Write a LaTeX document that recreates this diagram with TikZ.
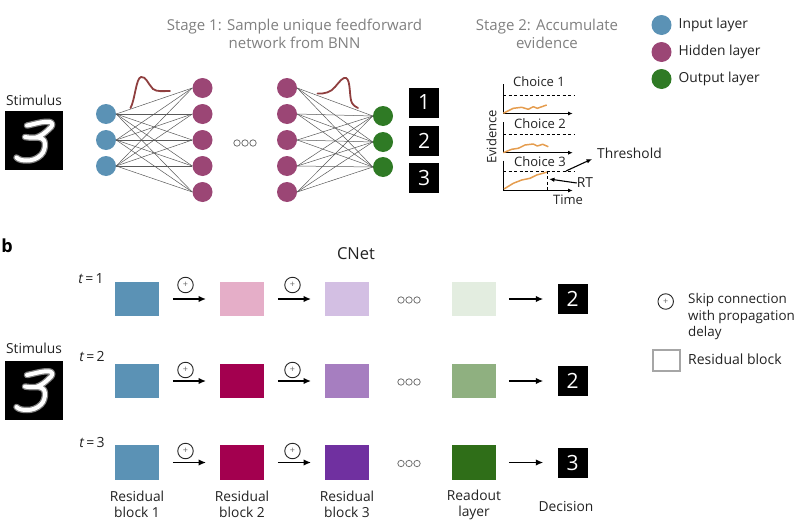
\documentclass[tikz,border=0pt]{standalone}
\usepackage{fontspec}
\setmainfont{Open Sans}
\usetikzlibrary{arrows.meta}
\definecolor{inblue}{HTML}{5B92B5}
\definecolor{hidpur}{HTML}{9B4675}
\definecolor{outgrn}{HTML}{2F7A25}
\definecolor{stagegray}{HTML}{808080}
\definecolor{inktext}{HTML}{222222}
\definecolor{curvered}{HTML}{8F3F3F}
\definecolor{orangeev}{HTML}{E59D4F}
\tikzset{
  neuron/.style={circle,inner sep=0pt,minimum size=20pt,fill=#1},
  link/.style={draw=black!65,line width=0.5pt},
  blackbox/.style={fill=black,text=white,inner sep=0pt,minimum width=30pt,minimum height=30pt,font=\fontsize{21}{21}\selectfont},
  block/.style={fill=#1,inner sep=0pt,minimum width=43.5pt,minimum height=34.5pt},
  flow/.style={-{Latex[length=7.5pt,width=6.5pt]},line width=1.8pt,black},
  skip/.style={circle,draw=black!85,line width=0.9pt,inner sep=0pt,minimum size=15.5pt,font=\fontsize{9}{9}\selectfont,text=black!60},
  lbl/.style={font=\fontsize{13.8}{16}\selectfont,text=inktext,align=center,inner sep=0pt},
  lleft/.style={font=\fontsize{13.8}{16.5}\selectfont,text=inktext,align=left,inner sep=0pt,anchor=west},
  stage/.style={font=\fontsize{15}{18}\selectfont,text=stagegray,align=center,inner sep=0pt},
  small/.style={font=\fontsize{13}{13}\selectfont,text=inktext,inner sep=0pt},
  axis/.style={-{Latex[length=4.5pt,width=4pt]},line width=1pt,black},
  thresh/.style={dashed,dash pattern=on 3pt off 2.4pt,line width=0.8pt,black},
  evid/.style={orangeev,line width=1.5pt,line join=round},
  pointer/.style={-{Latex[length=5.5pt,width=4.5pt]},line width=1.1pt,black},
  stim/.style={fill=black,inner sep=0pt,minimum width=58pt,minimum height=59pt},
}
\newcommand{\threedots}[2]{%
  \foreach \dx in {-8,0,8}{\draw[black!55,line width=0.8pt] (#1+\dx,#2) circle (3.2);}}
\newcommand{\digitthree}[2]{%
  \begin{scope}[shift={(#1,#2)}]
    \foreach \w/\c in {6.5/black!50,4/white}{
    \draw[\c,line width=\w pt,line cap=round,line join=round]
      (22,14.5) .. controls (30,13) and (38,10) .. (45,11) .. controls (49,12) and (47,16) .. (44,18)
      .. controls (40,22) and (36,25) .. (31,26.5) .. controls (27,27) and (23,26.5) .. (20,26)
      (31,26.5) .. controls (36,26.5) and (40,28) .. (40,33) .. controls (40,37) and (39,41) .. (36,44)
      .. controls (32,48) and (27,49.5) .. (22,49.5) .. controls (18,49.5) and (14,49) .. (11.5,46.5);}
  \end{scope}}
\begin{document}
\begin{tikzpicture}[x=1pt,y=-1pt]
\useasboundingbox (0,0) rectangle (800,530);
% stage headers
\node[stage] (st1) at (294.5,34) {Stage 1: Sample unique feedforward\\network from BNN};
\node[stage] (st2) at (547,34) {Stage 2: Accumulate\\evidence};
% legend
\node[neuron=inblue] (lg1) at (661.5,25) {};
\node[neuron=hidpur] (lg2) at (661.5,52) {};
\node[neuron=outgrn] (lg3) at (661.5,79) {};
\node[lleft] at (678.5,25) {Input layer};
\node[lleft] at (678.5,51.5) {Hidden layer};
\node[lleft] at (678.5,79) {Output layer};
% stimulus a
\node[lbl] (s1t) at (34,100) {Stimulus};
\node[stim] (s1) at (34,140.5) {};
\digitthree{5}{111}
% network
\foreach \n/\y in {1/114,2/140,3/166}{\node[neuron=inblue] (i\n) at (106,\y) {};}
\foreach \n/\y in {1/88,2/114,3/140,4/166,5/192}{
  \node[neuron=hidpur] (h\n) at (202.5,\y) {};
  \node[neuron=hidpur] (k\n) at (287,\y) {};}
\foreach \n/\y in {1/116,2/142,3/167}{\node[neuron=outgrn] (o\n) at (383,\y) {};}
\foreach \a in {1,2,3}{\foreach \b in {1,...,5}{
  \draw[link] (i\a.east) -- (h\b.west);
  \draw[link] (k\b.east) -- (o\a.west);}}
\threedots{245}{143}
\draw[curvered,line width=1.8pt,line cap=round] (130.5,108) .. controls (135,100) and (136,78) .. (141,77) .. controls (146,76) and (148,84) .. (153,89) .. controls (157,92) and (163,91) .. (170,91);
\draw[curvered,line width=1.8pt,line cap=round] (317.5,93.5) .. controls (325,94) and (331,92) .. (335,87) .. controls (340,81) and (343,77) .. (346,78) .. controls (351,80) and (349,98) .. (352,103) .. controls (354,106) and (356,107) .. (358,108);
\foreach \n/\y in {1/102.5,2/140.5,3/178}{\node[blackbox] (r\n) at (424,\y) {\n};}
% evidence charts
\node[small] (c1) at (539,82) {Choice 1};
\node[small] (c2) at (540,124) {Choice 2};
\node[small] (c3) at (540,162) {Choice 3};
\node[small,rotate=90] (ev) at (491.5,137) {Evidence};
\node[small] (tm) at (568,200) {Time};
\node[lbl,anchor=west] (th) at (597,153) {Threshold};
\node[lbl] (rt) at (585,183) {RT};
\foreach \t/\b/\d in {84/113.5/95,122/152.7/134,160.7/190.5/171}{
  \draw[line width=1pt,black] (503.3,\t) -- (503.3,\b);
  \draw[axis] (503.3,\b) -- (572.7,\b);
  \draw[thresh] (503.3,\d) -- (574,\d);}
\draw[evid] (503.3,113.3) -- (513.3,108.3) -- (521.7,107.3) -- (528.3,109.3) -- (533.3,106.7) -- (537.3,108.3) -- (546.7,105);
\draw[evid] (503.3,152.7) -- (511.7,149.3) -- (518.3,148.3) -- (525,145) -- (533.3,144) -- (537.3,146) -- (542.7,144.3) -- (548.3,146.7);
\draw[evid] (504,189) -- (513.3,183.3) -- (521.7,180) -- (530,178.3) -- (536.7,175) -- (547.3,172);
\draw[thresh] (547.3,171) -- (547.3,190.5);
\coordinate (thfrom) at (566,171);
\coordinate (thto) at (592,159);
\coordinate (rtto) at (549,179);
\draw[pointer] (thfrom) -- (thto);
\draw[pointer] (rt.west) -- (rtto);
% panel b
\node[font=\bfseries\fontsize{18}{18}\selectfont,text=black,inner sep=0pt] (pb) at (7,246) {b};
\node[font=\fontsize{16.5}{16.5}\selectfont,text=inktext,inner sep=0pt] (cn) at (356,254) {CNet};
\node[lbl] (s2t) at (34,348) {Stimulus};
\node[stim] (s2) at (34,390) {};
\digitthree{5}{360.5}
\foreach \r/\y/\py/\cb/\cc/\cd/\res in {
  1/299/285/E5AEC8/D3BFE3/E3EDE0/2,
  2/381/370/A3004F/A67EC0/8FB080/2,
  3/462.5/451/A3004F/7030A0/2F6E18/3}{
  \definecolor{cB}{HTML}{\cb}\definecolor{cC}{HTML}{\cc}\definecolor{cD}{HTML}{\cd}
  \node[block=inblue] (a\r) at (137,\y) {};
  \node[block=cB] (b\r) at (242,\y) {};
  \node[block=cC] (c\r) at (347,\y) {};
  \node[block=cD] (d\r) at (474,\y) {};
  \node[blackbox] (e\r) at (572.5,\y) {\res};
  \draw[flow,shorten <=14pt,shorten >=14pt] (a\r) -- (b\r);
  \draw[flow,shorten <=14pt,shorten >=14pt] (b\r) -- (c\r);
  \draw[flow,shorten <=13pt,shorten >=14pt] (d\r) -- (e\r);
  \node[skip] (p\r) at (185.5,\py) {+};
  \node[skip] (q\r) at (292.5,\py) {+};
  \threedots{409}{\y+1}
}
\node[small,font=\itshape\fontsize{14}{14}\selectfont] (t1) at (91,279) {t\,\normalfont{=}\,\normalfont{1}};
\node[small,font=\itshape\fontsize{14}{14}\selectfont] (t2) at (92,356) {t\,\normalfont{=}\,\normalfont{2}};
\node[small,font=\itshape\fontsize{14}{14}\selectfont] (t3) at (92,442.5) {t\,\normalfont{=}\,\normalfont{3}};
\node[lbl] at (137,504.7) {Residual\\block 1};
\node[lbl] at (242,504.7) {Residual\\block 2};
\node[lbl] at (347,504.7) {Residual\\block 3};
\node[lbl] at (474,504.7) {Readout\\layer};
\node[lbl] at (566,506) {Decision};
% legend b
\node[skip] (lgs) at (665.7,301.5) {+};
\node[lleft,font=\fontsize{13.4}{16.5}\selectfont,anchor=north west] at (688,293.5) {Skip connection\\with propagation\\delay};
\node[draw=black!35,line width=2pt,inner sep=0pt,minimum width=27pt,minimum height=21pt] (lgb) at (666,360) {};
\node[lleft,font=\fontsize{14}{16.5}\selectfont] at (688,359) {Residual block};
\end{tikzpicture}
\end{document}
